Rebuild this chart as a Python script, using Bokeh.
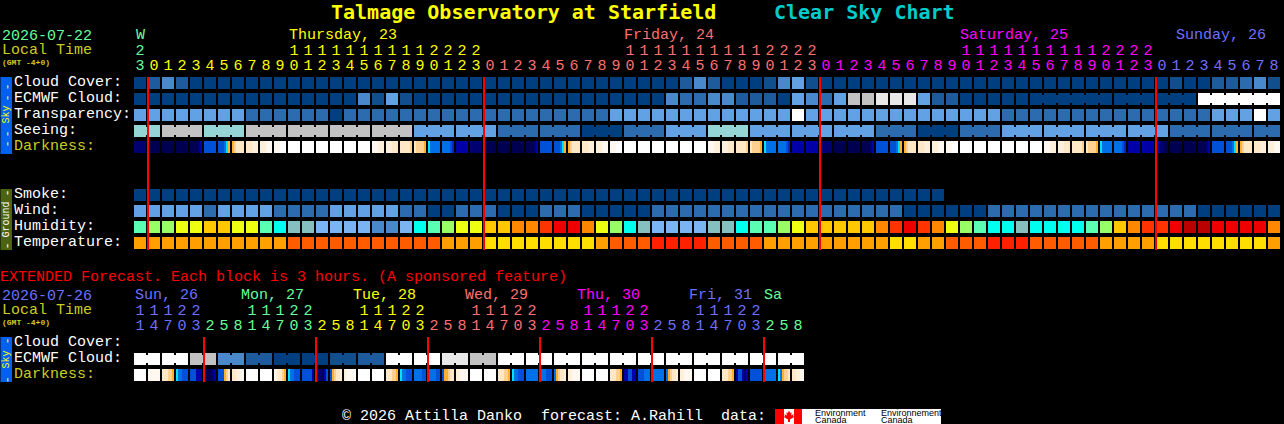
from math import pi
from bokeh.plotting import figure
from bokeh.models import ColumnDataSource, Range1d
from bokeh.core.properties import value
from bokeh.embed import file_html
from bokeh.resources import INLINE

# ---------- data ----------
def cells(s):
    return s.replace(" ", "")

CLOUD = cells("ACECAAAAAA AAAAAAAAAA AAAAAAAAAA AAAAAAAAAC ECAAABEFBA AAAAAAAAAA AAAAAAAAAA AAAABAACCD EB")
ECMWF = cells("AAAAAAAAAA AAAAAAEBFB AAAAAAAAAA AAAAAAAAED DEECCCAFED FIIJJJFCCA AAAAAAAAAA AAAAAAKKKK KK")
TRANSP = cells("FFFFFFFFDD DDDDADDDDD DDDDDDDDDD DDDDFFFFFF FFFFFFFKFF FFFFFFFFFF FFDDDDDDDD DDDDDDDFFF KF")
SEEING = cells("HHIIIHHHII IIIIIIIIII FFFFFFDDDD DDAAADDDFF FHHHFFFFFF FFFDDDAAAD DDFFFFFFFF FFFFDDDDDD DD")
SMOKE = cells("AAAAAAAAAA AAAAAAAAAA AAAAAAAAAA AAAAAAAAAA AAAAAAAAAA AAAAAAAA")
WIND = cells("FFFFFDFFFF DDDDFFFFFD DAADDDAAAD DDAAAAADDD DDDDDDDDDD DDDDDAAAAA ADDDDDDDDD DDDDDDAAAA AA")
HUMIDITY = cells("mllyyooyym zggGGGGEEG zmlyyoorrs ttrylzgGGG Gggzmmlyoo ooorstsryl mzzgzzzzml orsstuuttt tr")
TEMP = cells("xxxxxxxxxx xwwwwwwwww wwxxxvvvvv vvvxwwwddd dwwwwxxxxx xxxxvvxxww wdddwwwwwx xxxvvvvvvv vx")
DARK = ("mmmmmm nnnnnn nnnnnn nnnnnn nnnnmk bbbbbb bbbcto opqqqq qqqsss sssrrr "
        "rrrwww wwwwww wwwwww wwwwww wwwwww wwwwww wwwwww rrrsss sssqqq qqqqqp "
        "qppppo tccccc ccccbj kkkkkk mmmmmm nnnnnn nnnnnn nnnnnn nnnnmk bbbbbb "
        "bbbcto opqqqq qqqsss sssrrr rrrwww wwwwww wwwwww wwwwww wwwwww wwwwww "
        "wwwwww rrrsss sssqqq qqqqqp qppppo tccccc ccccbj kkkkkk kkkkkk mmmmmm "
        "nnnnnn nnnnnn nnnnmk bbbbbb bbbcto opqqqq qqqsss sssrrr rrrwww wwwwww "
        "wwwwww wwwwww wwwwww wwwwww wwwwww rrrsss sssqqq qqqqqp qppppo tccccc "
        "ccccbj kkkkkk kkkkkk kkmmnn nnnnnn nnnnnn nnnnmk bbbbbb bbbcto opqqqq "
        "qqqsss sssrrr").split()

EXT_ECMWF = cells("KK KK II EE CC AA AA BB CC KK KK JJ II KK KK KK KK KK KK KK KK KK KK KK")
EXT_DARK = ("wwwwww rrrrrr qqqppo tccbbb bbbkkk mnnnmk bbbopq qqssrr wwwwww wwwwww "
            "rsqqpo tccbbb bbbbbk kmmnkb bopqqs srrrrw wwwwww wwwwww qqqppo tccbbb "
            "ccccbb ccccbb boopqq ssrrrr wwwwww wwwwww qqqppo tccbbb cccccc cccbbb "
            "copqqs ssrrrr wwwwww wwwwww qqqppo kkbbkk bbbccc cccccc copqqs ssrrrr "
            "wwwwww wwwwww qqqppo kbbkmk bbbbbb cccccc tcoppq qqssrr").split()

SEEING_JOINS = [(0, 1)] + [(a, a + 2) for a in range(2, 78, 3)] + [(80, 81)]
ECMWF_JOINS = [(64, 69), (70, 72), (73, 75), (76, 81)]
EXT_JOINS = [(a, a + 1) for a in range(0, 48, 2)]

TENS = "2" + " " * 10 + "1111111111" + "2222" + " " * 10 + "1111111111" + "2222" + " " * 10 + "1111111111" + "2222" + " " * 9
ONES = "3" + "012345678901234567890123" * 3 + "012345678"
DAY_SPANS = [("Wed", 0, 1), ("Thu", 1, 25), ("Fri", 25, 49), ("Sat", 49, 73), ("Sun", 73, 82)]

EXT_TENS = "11122" + "   11122" * 5 + "   "
EXT_ONES = "14703" + "25814703" * 5 + "258"
EXT_SPANS = [("Sun", 0, 5), ("Mon", 5, 13), ("Tue", 13, 21), ("Wed", 21, 29), ("Thu", 29, 37), ("Fri", 37, 45), ("Sa", 45, 48)]

DAY_LABELS = [("W", 136, "Wed"), ("Thursday, 23", 289, "Thu"), ("Friday, 24", 624, "Fri"),
              ("Saturday, 25", 960, "Sat"), ("Sunday, 26", 1176, "Sun")]
EXT_LABELS = [("Sun, 26", 135, "Sun"), ("Mon, 27", 241, "Mon"), ("Tue, 28", 353, "Tue"),
              ("Wed, 29", 465, "Wed"), ("Thu, 30", 577, "Thu"), ("Fri, 31", 689, "Fri"), ("Sa", 764, "Sa")]

# ---------- styles ----------
LEVELS = dict(A="#003F7F", B="#104E8E", C="#1E5B9C", D="#2C6CAE", E="#4A88CC", F="#62A2E4",
              G="#7AB4F2", H="#95D5D5", I="#C2C2C2", J="#E8E8E8", K="#FFFFFF",
              m="#5BFFB2", l="#99FF66", y="#EEFF11", o="#FFC800", r="#FF8800", s="#FF3300",
              t="#EE0000", u="#BB0000", z="#00FFEE", g="#85BFBF",
              x="#FFA000", w="#FF5C00", v="#FFDE00", d="#FF2000")
DARK_LEVELS = dict(n="#000050", m="#000070", k="#0000A8", j="#0828C0", b="#0050D8", c="#0070E8",
                   t="#00E0FF", o="#FFB030", p="#FFD090", q="#FFE8C8", s="#FFF0DC", r="#FFF8F0", w="#FFFFFF")
DAY_COLORS = dict(Wed="#66FF99", Thu="#FFFF00", Fri="#FF7070", Sat="#FF00FF", Sun="#7070FF",
                  Mon="#66FF99", Tue="#FFFF00", Sa="#66FF99")
EXT_DAY_COLORS = dict(DAY_COLORS, Wed="#FF7070", Thu="#FF00FF", Fri="#7070FF")
DIM = "#CCCC22"
MONO = "Liberation Mono"

X0, PITCH, CELL, NOTCH = 134, 14, 12, 2
LIFT15, LIFT20, LIFT8 = 5, 7, 3   # text sits lower than its anchor by about 0.35 em

p = figure(width=1284, height=424, output_backend="svg", toolbar_location=None,
           x_range=Range1d(0.5, 1284.5), y_range=Range1d(424.5, 0.5), min_border=0,
           background_fill_color="#000000", border_fill_color="#000000",
           outline_line_color=None, x_axis_type=None, y_axis_type=None)
p.grid.visible = False
p.styles = {"position": "absolute", "left": "0px", "top": "0px", "background-color": "#000000"}

quads = dict(l=[], r=[], t=[], b=[], c=[])


def box(l, r, t, b, c):
    quads["l"].append(l); quads["r"].append(r); quads["t"].append(t); quads["b"].append(b); quads["c"].append(c)


def col_left(i):
    return X0 + PITCH * i


def row(levels, top, joins=()):
    for i, ch in enumerate(levels):
        box(col_left(i), col_left(i) + CELL, top, top + CELL, LEVELS[ch])
    for a, b in joins:
        for i in range(a, b):
            box(col_left(i) + CELL, col_left(i + 1), top + NOTCH, top + CELL - NOTCH, LEVELS[levels[i]])


def dark_row(tokens, top):
    for i, tok in enumerate(tokens):
        w = CELL / len(tok)
        prev = None
        for k, ch in enumerate(tok):
            if ch != prev:
                box(col_left(i) + k * w, col_left(i) + CELL, top, top + CELL, DARK_LEVELS[ch])
            prev = ch


# sidebars
box(0, 12, 77, 154, "#0060F0")
box(0, 12, 189, 250, "#4C6410")
box(0, 12, 337, 382, "#0060F0")

row(CLOUD, 77)
row(ECMWF, 93, ECMWF_JOINS)
row(TRANSP, 109)
row(SEEING, 125, SEEING_JOINS)
dark_row(DARK, 141)
row(SMOKE, 189)
row(WIND, 205)
row(HUMIDITY, 221)
row(TEMP, 237)
row(EXT_ECMWF, 353, EXT_JOINS)
dark_row(EXT_DARK, 369)

# logo backgrounds
box(775, 941, 409, 424, "#FFFFFF")
box(775, 784, 409, 424, "#FF0000")
box(794, 802, 409, 424, "#FF0000")

p.quad(left="l", right="r", top="t", bottom="b", fill_color="c", line_color=None, source=ColumnDataSource(quads))

# maple leaf
LEAF_X = [0, 1.2, 2.6, 2.2, 4.6, 4, 5.2, 1, 1, -1, -1, -5.2, -4, -4.6, -2.2, -2.6, -1.2]
LEAF_Y = [-6, -3.6, -4.2, -1, -2.4, -0.6, 0.4, 3, 5.5, 5.5, 3, 0.4, -0.6, -2.4, -1, -4.2, -3.6]
p.patch([789 + v for v in LEAF_X], [416.5 + v for v in LEAF_Y], fill_color="#FF0000", line_color=None)

# red day lines
main_lines = [col_left(i) for i in (1, 25, 49, 73)]
p.segment(main_lines, [77] * 4, main_lines, [250] * 4, line_color="#FF0000", line_width=2)
ext_lines = [col_left(i) for i in (5, 13, 21, 29, 37, 45)]
p.segment(ext_lines, [337] * 6, ext_lines, [382] * 6, line_color="#FF0000", line_width=2)

T = dict(x=[], y=[], t=[], c=[])


def txt(x, y, s, c):
    T["x"].append(x); T["y"].append(y - LIFT15); T["t"].append(s); T["c"].append(c)


# left labels
txt(2, 40, "2026-07-22", "#66FF99")
txt(2, 55, "Local Time", DIM)
txt(2, 300, "2026-07-26", "#7070FF")
txt(2, 315, "Local Time", DIM)
for label, y in [("Cloud Cover:", 87), ("ECMWF Cloud:", 103), ("Transparency:", 119), ("Seeing:", 135),
                 ("Smoke:", 199), ("Wind:", 215), ("Humidity:", 231), ("Temperature:", 247),
                 ("Cloud Cover:", 347), ("ECMWF Cloud:", 363)]:
    txt(14, y, label, "#FFFFFF")
txt(14, 151, "Darkness:", DIM)
txt(14, 379, "Darkness:", DIM)
for s, x, d in DAY_LABELS:
    txt(x, 40, s, DAY_COLORS[d])
for s, x, d in EXT_LABELS:
    txt(x, 300, s, EXT_DAY_COLORS[d])
txt(0, 282, "EXTENDED Forecast. Each block is 3 hours. (A sponsored feature)", "#FF0000")
txt(342, 421, "\u00a9 2026 Attilla Danko", "#FFFFFF")
txt(541, 421, "forecast: A.Rahill", "#FFFFFF")
txt(721, 421, "data:", "#FFFFFF")
p.text("x", "y", "t", text_color="c", text_font=value(MONO), text_font_size="15px",
       text_align="left", text_baseline="alphabetic", source=ColumnDataSource(T))

# hour digits
D = dict(x=[], y=[], t=[], c=[])


def digits(tens, ones, spans, colors, y1, y2):
    for name, a, b in spans:
        for i in range(a, b):
            cx = col_left(i) + CELL / 2
            if tens[i] != " ":
                D["x"].append(cx); D["y"].append(y1 - LIFT15); D["t"].append(tens[i]); D["c"].append(colors[name])
            D["x"].append(cx); D["y"].append(y2 - LIFT15); D["t"].append(ones[i]); D["c"].append(colors[name])


digits(TENS, ONES, DAY_SPANS, DAY_COLORS, 55, 70)
digits(EXT_TENS, EXT_ONES, EXT_SPANS, EXT_DAY_COLORS, 315, 330)
p.text("x", "y", "t", text_color="c", text_font=value(MONO), text_font_size="15px",
       text_align="center", text_baseline="alphabetic", source=ColumnDataSource(D))

# titles
p.text([331, 774], [19 - LIFT20, 19 - LIFT20], ["Talmage Observatory at Starfield", "Clear Sky Chart"],
       text_color=["#FFFF00", "#00CCCC"], text_font=value("DejaVu Sans Mono"), text_font_style="bold",
       text_font_size="20px", text_align="left", text_baseline="alphabetic")

# GMT notes
p.text([2, 2], [65 - LIFT8, 325 - LIFT8], ["(GMT -4+0)", "(GMT -4+0)"], text_color=DIM, text_font=value(MONO),
       text_font_style="bold", text_font_size="8px", text_align="left", text_baseline="alphabetic")

# rotated sidebar labels
p.text([6, 6, 6], [114.5, 219.5, 359.5], ["Sky", "Ground", "Sky"], text_color=["#FFFF00", "#FFFFFF", "#FFFF00"],
       angle=pi / 2, text_font=value(MONO), text_font_size="10px", text_align="center", text_baseline="middle")
p.text([6] * 8, [87, 98, 134, 144, 193, 246, 341, 380], ["-"] * 8,
       text_color=["#FFFF00"] * 4 + ["#FFFFFF"] * 2 + ["#FFFF00"] * 2,
       angle=pi / 2, text_font=value(MONO), text_font_size="12px", text_align="center", text_baseline="middle")

# logo text
p.text([815, 815, 881, 881], [416 - LIFT8, 423 - LIFT8, 416 - LIFT8, 423 - LIFT8],
       ["Environment", "Canada", "Environnement", "Canada"], text_color="#000000",
       text_font=value("Liberation Sans"), text_font_size="9px", text_align="left", text_baseline="alphabetic")

open("out.html", "w").write(file_html(p, INLINE))
